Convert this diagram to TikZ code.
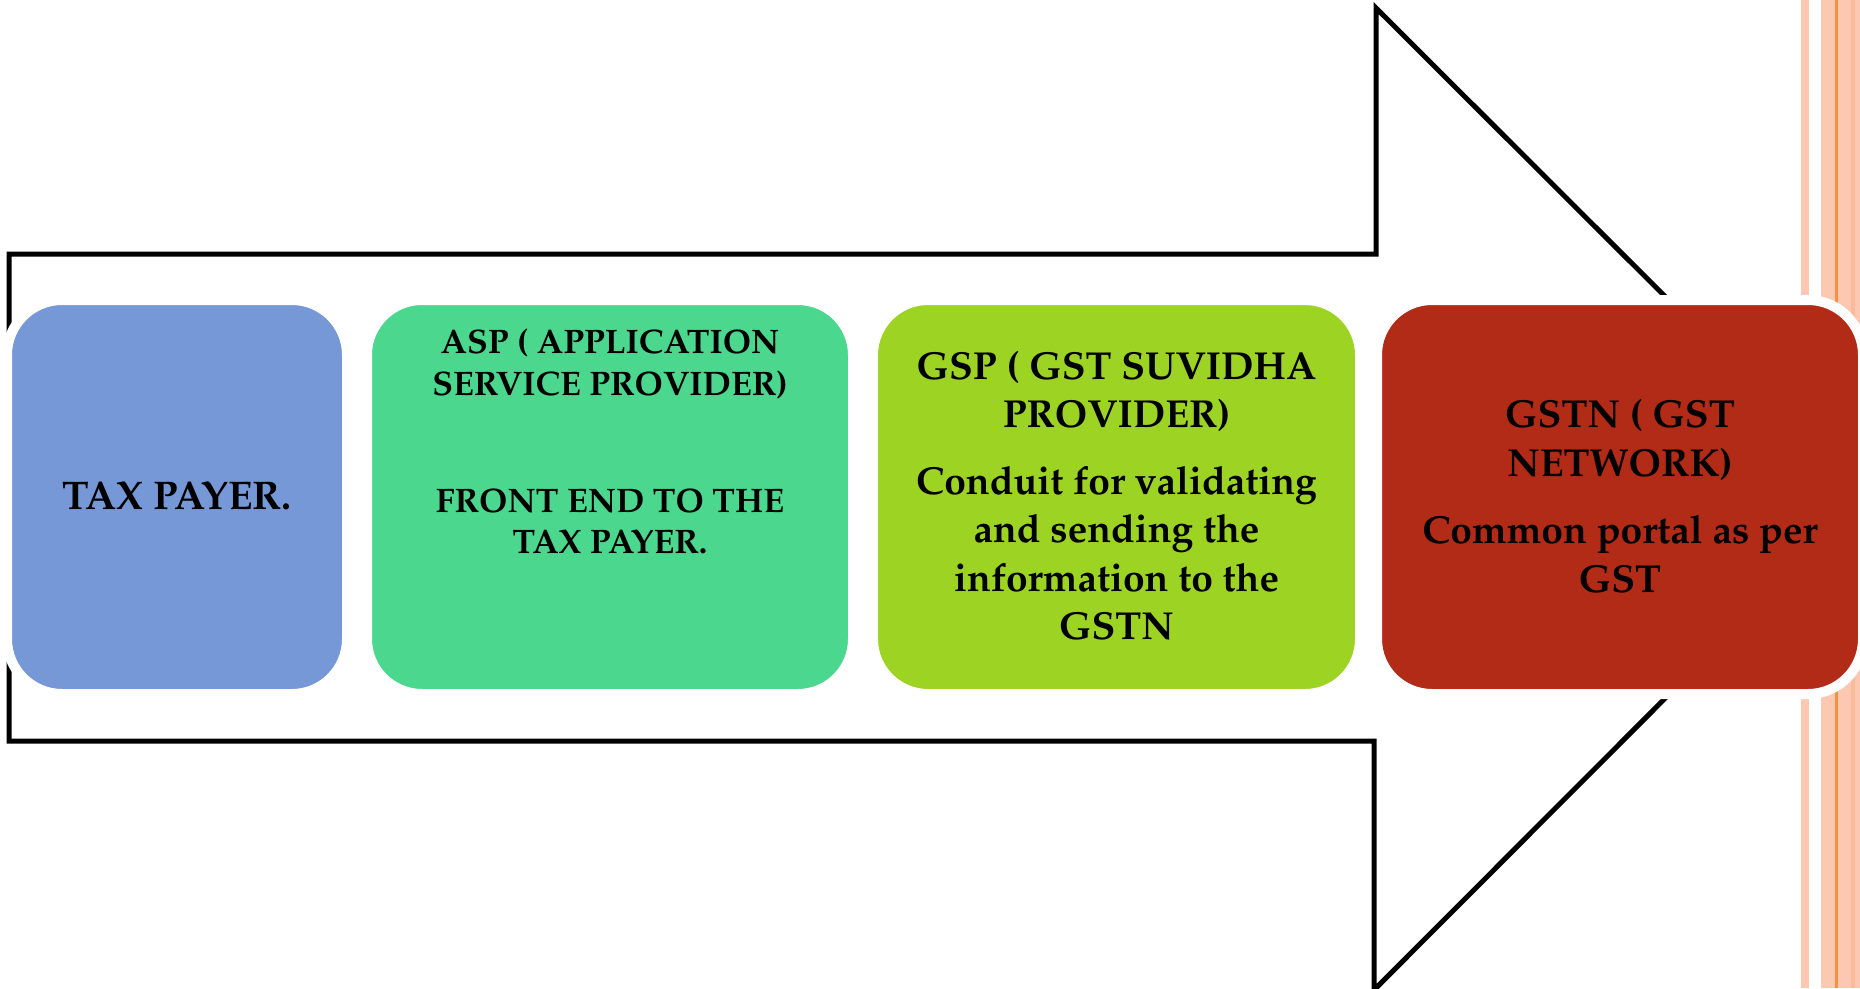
\documentclass[tikz,border=0pt]{standalone}
\usepackage[T1]{fontenc}
\renewcommand{\rmdefault}{ppl}
\definecolor{bxblue}{HTML}{7698D6}
\definecolor{bxgreen}{HTML}{4BD78E}
\definecolor{bxlime}{HTML}{9DD323}
\definecolor{bxred}{HTML}{B12B17}
\definecolor{stripe}{HTML}{FCC8B2}
\definecolor{stripedk}{HTML}{FBBA9C}
\definecolor{stripeor}{HTML}{F79040}
\tikzset{
  card/.style={rounded corners=55pt, fill=#1, draw=white, line width=10pt, minimum height=394pt, inner sep=0pt},
  big/.style={anchor=base, font=\fontsize{39}{47}\selectfont\bfseries, inner sep=0pt},
  mid/.style={anchor=base, font=\fontsize{34}{41}\selectfont\bfseries, inner sep=0pt},
}
\begin{document}
\begin{tikzpicture}[x=1pt,y=-1pt]
\useasboundingbox (0,0) rectangle (1860,988);
\fill[white] (0,0) rectangle (1860,988);
% stripes
\fill[stripe] (1801,0) rectangle (1809,988);
\fill[stripe] (1821,0) rectangle (1860,988);
\fill[stripeor] (1835,0) rectangle (1838,988);
\fill[stripedk] (1851,0) rectangle (1855,988);
% big arrow outline
\begin{scope}
\clip (0,0) rectangle (1860,988);
\draw[line width=5pt, line join=miter] (9,254) -- (1376,254) -- (1376,8) -- (1866,497) -- (1374,990) -- (1374,741) -- (9,741) -- cycle;
\end{scope}
% cards
\node[card=bxblue, minimum width=340pt] (b1) at (177,497) {};
\node[card=bxgreen, minimum width=486pt] (b2) at (610,497) {};
\node[card=bxlime, minimum width=487pt] (b3) at (1116.5,497) {};
\node[card=bxred, minimum width=486pt] (b4) at (1620,497) {};
% texts
\node[big, font=\fontsize{40}{48}\selectfont\bfseries] (t1) at (177,509) {TAX PAYER.};
\node[mid] (a1) at (610,353) {ASP ( APPLICATION};
\node[mid] (a2) at (610,395) {SERVICE PROVIDER)};
\node[mid] (a3) at (610,512) {FRONT END TO THE};
\node[mid] (a4) at (610,553) {TAX PAYER.};
\node[big] (g1) at (1116.5,379) {GSP ( GST SUVIDHA};
\node[big] (g2) at (1116.5,427) {PROVIDER)};
\node[big] (g3) at (1116.5,494) {Conduit for validating};
\node[big] (g4) at (1116.5,542) {and sending the};
\node[big] (g5) at (1116.5,591) {information to the};
\node[big] (g6) at (1116.5,639) {GSTN};
\node[big] (n1) at (1620,427) {GSTN ( GST};
\node[big] (n2) at (1620,476) {NETWORK)};
\node[big] (n3) at (1620,543) {Common portal as per};
\node[big] (n4) at (1620,592) {GST};
\end{tikzpicture}
\end{document}
